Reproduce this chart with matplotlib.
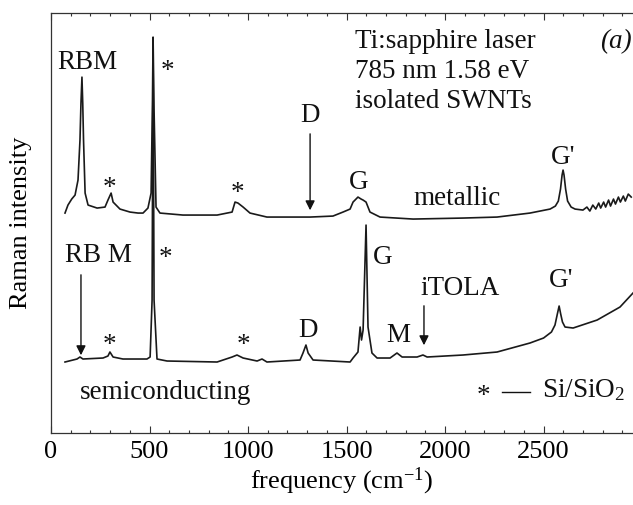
import matplotlib
matplotlib.use('agg')
import matplotlib.pyplot as plt
from matplotlib.ticker import MultipleLocator

plt.rcParams['font.family'] = ['Liberation Serif', 'DejaVu Serif']
plt.rcParams['mathtext.fontset'] = 'custom'
plt.rcParams['mathtext.rm'] = 'Liberation Serif'
plt.rcParams['mathtext.it'] = 'Liberation Serif:italic'

# frequency (cm^-1) and intensity (arb. units)
freq_met = [71, 86, 105, 122, 137, 147, 152, 157, 161, 165, 173, 188, 234, 274, 289, 305,
            315, 350, 401, 442, 467, 492, 508, 515, 518, 523, 533, 553, 670, 843, 919,
            934, 949, 975, 1010, 1096, 1178, 1315, 1431, 1482, 1518, 1533, 1558, 1574,
            1584, 1599, 1619, 1670, 1838, 2091, 2264, 2431, 2533, 2560, 2575, 2586, 2594,
            2599, 2604, 2612, 2622, 2640, 2660, 2700, 2720, 2735, 2750, 2765, 2780, 2790,
            2805, 2815, 2830, 2840, 2855, 2865, 2880, 2890, 2905, 2915, 2930, 2945]
int_met = [220, 228, 234, 238, 253, 293, 330, 356, 330, 293, 240, 228, 225, 226, 233, 240,
           231, 224, 221, 220, 220, 225, 240, 333, 396, 323, 226, 220, 218, 218, 221,
           231, 230, 226, 220, 216, 216, 216, 217, 221, 224, 231, 236, 234,
           233, 231, 221, 216, 214, 215, 216, 220, 224, 227, 232, 244, 258,
           263, 258, 244, 232, 226, 224, 223, 226, 222, 228, 224, 230, 225,
           231, 226, 233, 227, 234, 229, 236, 231, 237, 232, 239, 236]

freq_sc = [71, 132, 147, 162, 264, 289, 299, 315, 365, 487, 503, 513, 518, 523, 538,
           589, 843, 919, 944, 975, 1046, 1071, 1096, 1264, 1279, 1294, 1305, 1330, 1518,
           1533, 1558, 1569, 1576, 1584, 1599, 1609, 1629, 1655, 1721, 1756, 1782, 1858,
           1888, 1909, 2091, 2264, 2431, 2500, 2540, 2558, 2570, 2579, 2587, 2596, 2609,
           2650, 2772, 2888, 2954]
int_sc = [71, 74, 76, 74, 75, 77, 81, 76, 74, 74, 76, 133, 388, 133, 74,
          72, 71, 76, 78, 75, 72, 74, 71, 73, 80, 88, 80, 73, 71,
          75, 81, 106, 93, 103, 208, 106, 80, 75, 75, 80, 76, 76,
          78, 76, 78, 81, 90, 95, 101, 108, 119, 127, 119, 111, 106,
          105, 113, 126, 140]

fig = plt.figure(figsize=(6.33, 5.05), dpi=100)
ax = fig.add_axes([0.0806, 0.1426, 0.9194, 0.8314])
ax.plot(freq_met, int_met, color='#1a1a1a', lw=1.2)
ax.plot(freq_sc, int_sc, color='#1a1a1a', lw=1.2)

ax.set_xlim(0, 2954)
ax.set_ylim(0, 420)
ax.spines['right'].set_visible(False)
for s in ['left', 'top', 'bottom']:
    ax.spines[s].set_linewidth(0.9)
    ax.spines[s].set_color('#333333')
ax.set_yticks([])
ax.xaxis.set_major_locator(MultipleLocator(500))
ax.xaxis.set_minor_locator(MultipleLocator(100))
ax.tick_params(axis='x', which='both', direction='in', top=True, labelsize=19, color='#333333', pad=6)
ax.tick_params(axis='x', which='major', length=5, width=0.8)
ax.tick_params(axis='x', which='minor', length=2.5, width=0.8)
ax.set_xlabel('frequency (cm$^{-1}$)', fontsize=19, labelpad=2)
ax.set_ylabel('Raman intensity', fontsize=19, labelpad=14)

fs = 19.5
txt = dict(fontsize=fs, ha='center', va='center', color='#111111')
# upper spectrum
ax.text(183, 371, 'RBM', **txt)
ax.text(589, 362, '*', **txt)
ax.text(299, 245, '*', **txt)
ax.text(944, 240, '*', **txt)
ax.text(1315, 318, 'D', **txt)
ax.annotate('', xy=(1315, 220), xytext=(1315, 302),
            arrowprops=dict(arrowstyle='-|>', color='#111111', lw=1.0, mutation_scale=14))
ax.text(1563, 251, 'G', **txt)
ax.text(2599, 276, "G'", **txt)
ax.text(2061, 235, 'metallic', **txt)
for i, line in enumerate(['Ti:sapphire laser', '785 nm 1.58 eV', 'isolated SWNTs']):
    ax.text(1543, 385 - 30 * i, line, fontsize=fs, ha='left', va='baseline', color='#111111')
ax.text(2949, 385, '(a)', fontsize=fs, ha='right', va='baseline', style='italic', color='#111111')

# lower spectrum
ax.text(239, 178, 'RB M', **txt)
ax.annotate('', xy=(152, 75), xytext=(152, 161),
            arrowprops=dict(arrowstyle='-|>', color='#111111', lw=1.0, mutation_scale=14))
ax.text(579, 175, '*', **txt)
ax.text(299, 88, '*', **txt)
ax.text(975, 88, '*', **txt)
ax.text(1305, 103, 'D', **txt)
ax.text(579, 41, 'semiconducting', **txt)
ax.text(1685, 176, 'G', **txt)
ax.text(1761, 98, 'M', **txt)
ax.text(2076, 145, 'iTOLA', **txt)
ax.annotate('', xy=(1893, 85), xytext=(1893, 130),
            arrowprops=dict(arrowstyle='-|>', color='#111111', lw=1.0, mutation_scale=14))
ax.text(2589, 153, "G'", **txt)

# legend for asterisks
ax.text(2193, 36, '*', **txt)
ax.plot([2289, 2431], [41, 41], color='#111111', lw=1.0)
ax.text(2492, 43, 'Si/SiO$_2$', fontsize=fs, ha='left', va='center', color='#111111')

fig.savefig('out.png', dpi=100)
plt.close('all')
